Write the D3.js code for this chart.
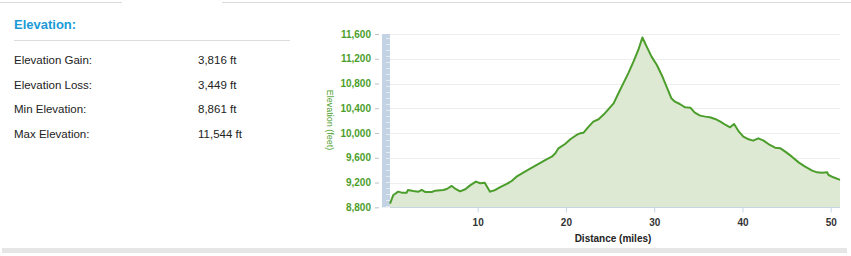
<!DOCTYPE html>
<html>
<head>
<meta charset="utf-8">
<script src="https://cdn.jsdelivr.net/npm/d3@7"></script>
<style>
  body { margin: 0; background: #fff; font-family: "Liberation Sans", Arial, sans-serif; }
</style>
</head>
<body>
<div id="elev"></div>
<script>
// summary panel
var statLabels = ["Elevation Gain:", "Elevation Loss:", "Min Elevation:", "Max Elevation:"];
var statValues = ["3,816 ft", "3,449 ft", "8,861 ft", "11,544 ft"];

// profile (miles, feet)
var distance = [0.07, 0.45, 1.0, 1.4, 1.96, 2.1, 2.7, 3.3, 3.66, 4.03, 4.8, 5.2, 6.1, 6.5, 7.06, 7.4, 8.0, 8.6, 9.1, 9.8,
  10.3, 10.8, 11.4, 12.0, 12.5, 13.3, 13.85, 14.4, 15.55, 16.7, 17.8, 18.4, 18.8, 19.15, 19.9, 20.5, 21.2, 21.6, 22.0,
  22.5, 23.1, 23.7, 24.3, 24.8, 25.4, 25.95, 26.5, 27.1, 27.65, 28.2, 28.66, 29.15, 29.7, 30.3, 30.85, 31.4, 31.95,
  32.35, 32.9, 33.5, 34.1, 34.6, 35.2, 35.8, 36.3, 36.9, 37.5, 38.1, 38.6, 39.05, 39.6, 40.1, 40.7, 41.2, 41.8, 42.4,
  43.1, 43.7, 44.3, 44.85, 45.6, 46.4, 47.1, 47.9, 48.45, 49.0, 49.6, 49.75, 50.3, 51.05];
var elevation = [8861, 8999, 9053, 9037, 9037, 9080, 9064, 9053, 9080, 9048, 9048, 9069, 9080, 9096, 9145, 9107, 9058, 9091, 9150, 9215,
  9188, 9198, 9053, 9080, 9123, 9177, 9225, 9295, 9392, 9484, 9575, 9618, 9672, 9753, 9823, 9899, 9969, 9995, 10006,
  10092, 10184, 10222, 10302, 10383, 10480, 10642, 10803, 10976, 11153, 11342, 11544, 11395, 11234, 11099, 10938, 10749, 10561,
  10507, 10469, 10415, 10410, 10329, 10281, 10265, 10254, 10227, 10184, 10130, 10092, 10146, 10022, 9942, 9899, 9877, 9915, 9877,
  9807, 9764, 9753, 9699, 9618, 9522, 9457, 9392, 9365, 9360, 9365, 9322, 9285, 9242];
var yTicks = [8800, 9200, 9600, 10000, 10400, 10800, 11200, 11600];
var xTicks = [10, 20, 30, 40, 50];

var data = d3.zip(distance, elevation);

var W = 851, H = 256;
var svg = d3.select("#elev").append("svg").attr("width", W).attr("height", H);

// tab borders + bottom bar
svg.append("line").attr("x1", 0).attr("x2", 122).attr("y1", 2.5).attr("y2", 2.5).attr("stroke", "#dcdcdc");
svg.append("line").attr("x1", 222).attr("x2", 851).attr("y1", 2.5).attr("y2", 2.5).attr("stroke", "#dcdcdc");
svg.append("rect").attr("x", 2).attr("y", 248).attr("width", 845).attr("height", 5).attr("fill", "#e6e6e6");

// left panel
svg.append("text").attr("x", 14).attr("y", 29).text("Elevation:")
  .attr("fill", "#1a9ad6").style("font-size", "13px").style("font-weight", "bold");
svg.append("line").attr("x1", 14).attr("x2", 290).attr("y1", 40.5).attr("y2", 40.5).attr("stroke", "#dddddd");
statLabels.forEach(function(l, i) {
  svg.append("text").attr("x", 14).attr("y", 64 + i * 24.5).text(l)
    .attr("fill", "#222").style("font-size", "11.5px");
  svg.append("text").attr("x", 198).attr("y", 64 + i * 24.5).text(statValues[i])
    .attr("fill", "#222").style("font-size", "11.5px");
});

// chart
var x = d3.scaleLinear().domain([0, 51.05]).range([389.4, 840]);
var y = d3.scaleLinear().domain([8800, 11600]).range([207.3, 34]);
var green = "#4c9e2c";

var g = svg.append("g");

g.selectAll(".grid").data(yTicks).join("line")
  .attr("x1", 390).attr("x2", 840)
  .attr("y1", d => Math.round(y(d)) + 0.5).attr("y2", d => Math.round(y(d)) + 0.5)
  .attr("stroke", "#eeeeee");

// striped band left of plot
var defs = svg.append("defs");
var pat = defs.append("pattern").attr("id", "stripe").attr("patternUnits", "userSpaceOnUse")
  .attr("width", 8).attr("height", 6);
pat.append("rect").attr("width", 8).attr("height", 6).attr("fill", "#c3d3e4");
pat.append("rect").attr("x", 2).attr("y", 2).attr("width", 4).attr("height", 1).attr("fill", "#e3ebf3");
g.append("rect").attr("x", 382).attr("y", y(11600)).attr("width", 8).attr("height", y(8800) - y(11600))
  .attr("fill", "url(#stripe)");

g.append("path").datum(data)
  .attr("d", d3.area().x(d => x(d[0])).y0(y(8800)).y1(d => y(d[1])))
  .attr("fill", "#dde9d2");
g.append("path").datum(data)
  .attr("d", d3.line().x(d => x(d[0])).y(d => y(d[1])))
  .attr("fill", "none").attr("stroke", green).attr("stroke-width", 2).attr("stroke-linejoin", "round");

// x axis
var xa = g.append("g").attr("transform", "translate(0," + 207.5 + ")")
  .call(d3.axisBottom(x).tickValues(xTicks).tickSize(5).tickPadding(6));
xa.select(".domain").attr("stroke", "#c8d6e4").attr("d", "M390,0H840");
xa.selectAll(".tick line").attr("stroke", "#c8d6e4");
xa.selectAll("text").attr("fill", "#333").style("font-size", "10px").style("font-weight", "bold")
  .style("font-family", "Liberation Sans, Arial, sans-serif");
svg.append("text").attr("x", 613).attr("y", 242).attr("text-anchor", "middle").text("Distance (miles)")
  .attr("fill", "#222").style("font-size", "10px").style("font-weight", "bold");

// y axis
var ya = g.append("g").attr("transform", "translate(379,0)")
  .call(d3.axisLeft(y).tickValues(yTicks).tickFormat(d3.format(",")).tickSize(4).tickPadding(4));
ya.select(".domain").remove();
ya.selectAll(".tick line").attr("stroke", "#c0c0c0");
ya.selectAll("text").attr("fill", green).style("font-size", "10px").style("font-weight", "bold")
  .style("font-family", "Liberation Sans, Arial, sans-serif");
svg.append("text").attr("transform", "translate(327,120) rotate(90)").attr("text-anchor", "middle")
  .text("Elevation (feet)").attr("fill", green).style("font-size", "9px");
</script>
</body>
</html>
